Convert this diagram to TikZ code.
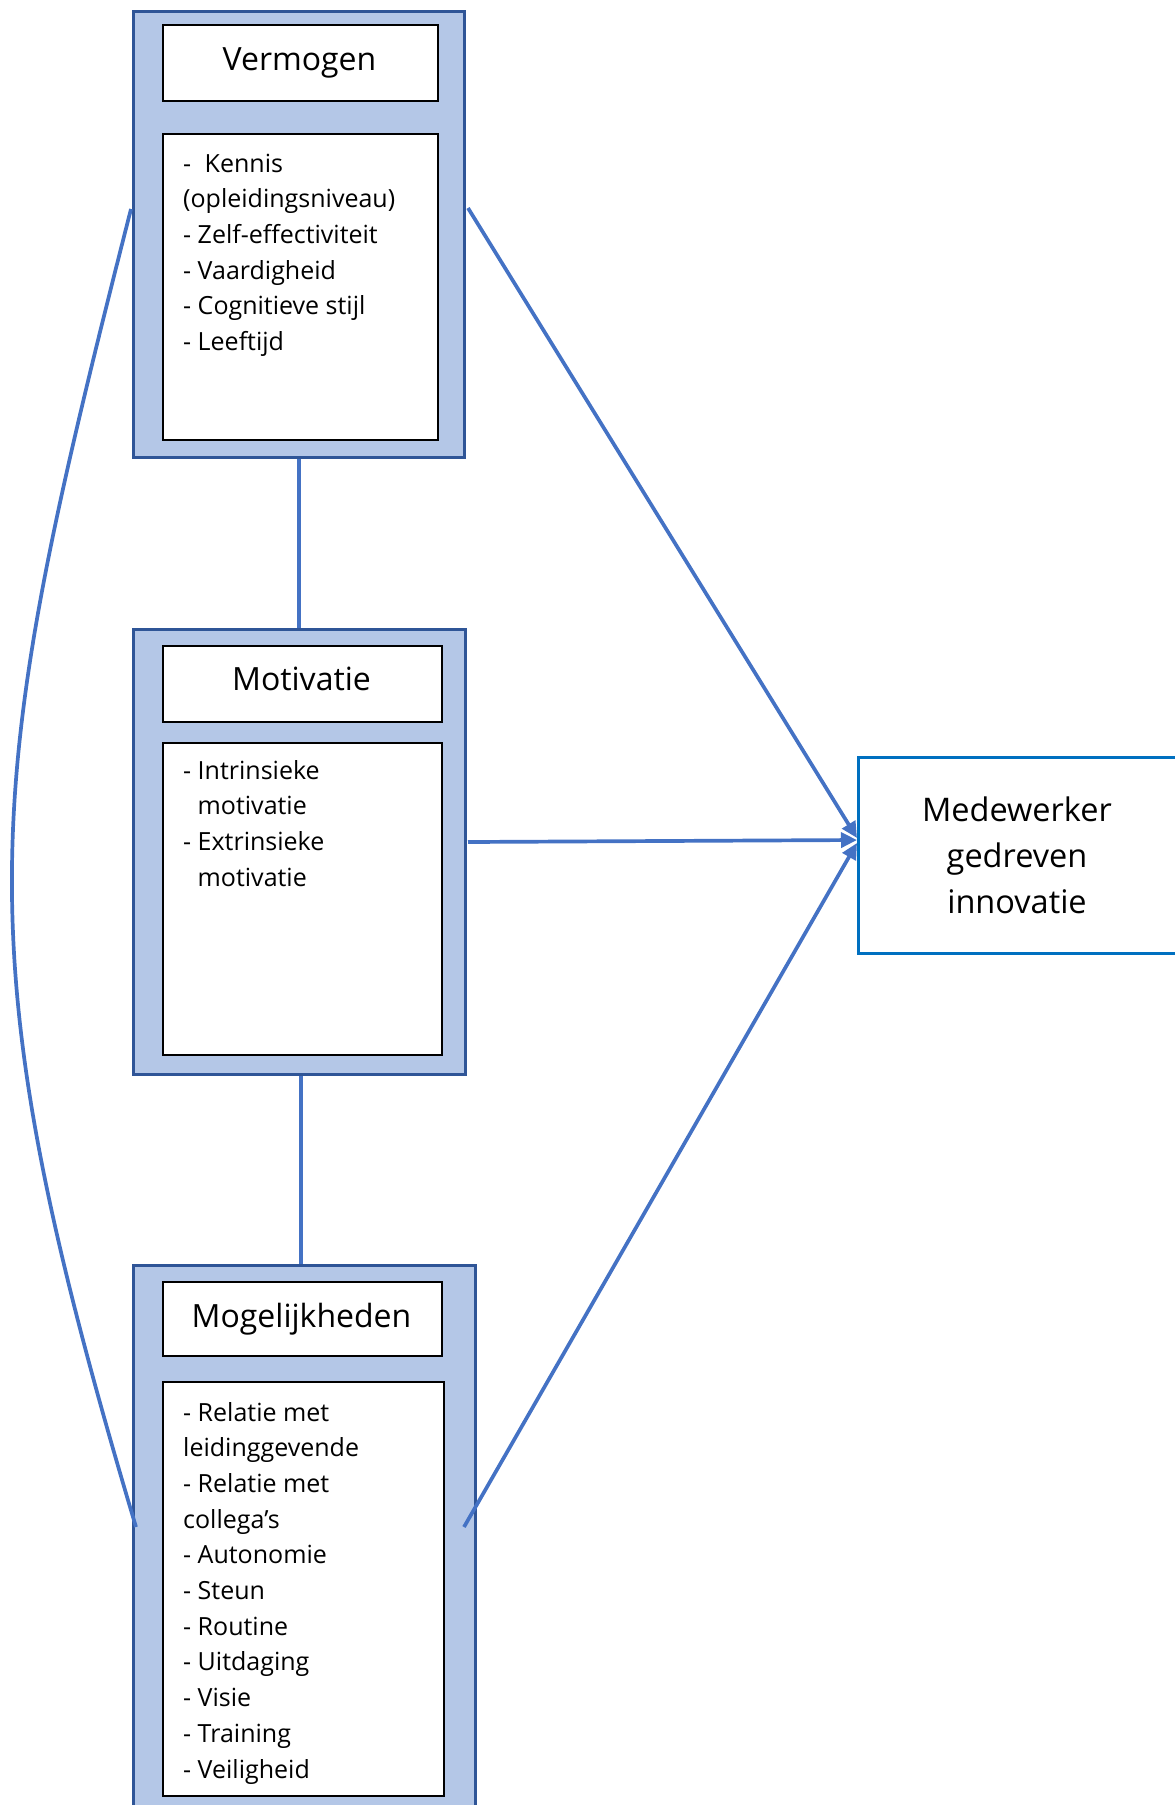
\documentclass[tikz,border=0pt]{standalone}
\usepackage{fontspec}
\setmainfont{Open Sans}
\usetikzlibrary{arrows.meta,calc}
\definecolor{outerfill}{HTML}{B4C7E7}
\definecolor{outerdraw}{HTML}{2F5597}
\definecolor{conn}{HTML}{4472C4}
\definecolor{medeblue}{HTML}{0070C0}
\tikzset{
  outerbox/.style={draw=outerdraw, fill=outerfill, line width=2.5pt, inner sep=0pt, anchor=north west},
  innerbox/.style={draw=black, fill=white, line width=1.8pt, inner sep=0pt, anchor=north west},
  titletext/.style={anchor=base, inner sep=0pt, font=\fontsize{32}{38}\selectfont},
  listtext/.style={anchor=base west, inner sep=0pt, align=left, font=\fontsize{25}{35.7}\selectfont},
  medebox/.style={draw=medeblue, fill=white, line width=2.8pt, inner sep=0pt, anchor=north west},
  medetext/.style={anchor=base, inner sep=0pt, align=center, font=\fontsize{32.5}{46}\selectfont},
  connline/.style={draw=conn, line width=3.7pt},
  connarrow/.style={draw=conn, line width=3.7pt, -{Triangle[length=16pt,width=15pt]}},
}
\begin{document}
\begin{tikzpicture}[x=1pt,y=-1pt]
\useasboundingbox (0,0) rectangle (1175,1805);
% Vermogen
\node[outerbox, minimum width=331pt, minimum height=446pt] (verm) at (132,10) {};
\node[innerbox, minimum width=275pt, minimum height=76pt] (vermT) at (162,24) {};
\node[innerbox, minimum width=275pt, minimum height=306pt] (vermC) at (162,133) {};
\node[titletext] (vermTt) at (299.5,70) {Vermogen};
% anchor base = baseline of the last line
\node[listtext] (vermCt) at (183,350.5) {- \hspace{7pt}Kennis\\(opleidingsniveau)\\- Zelf-effectiviteit\\- Vaardigheid\\- Cognitieve stijl\\- Leeftijd};
% Motivatie
\node[outerbox, minimum width=332pt, minimum height=445pt] (moti) at (132,628) {};
\node[innerbox, minimum width=279pt, minimum height=76pt] (motiT) at (162,645) {};
\node[innerbox, minimum width=279pt, minimum height=312pt] (motiC) at (162,742) {};
\node[titletext] (motiTt) at (301.5,690) {Motivatie};
\node[listtext] (motiCt) at (183,886.1) {- Intrinsieke\\\phantom{- }motivatie\\- Extrinsieke\\\phantom{- }motivatie};
% Mogelijkheden
\node[outerbox, minimum width=342pt, minimum height=560pt] (mog) at (132,1264) {};
\node[innerbox, minimum width=279pt, minimum height=74pt] (mogT) at (162,1281) {};
\node[innerbox, minimum width=281pt, minimum height=414pt] (mogC) at (162,1381) {};
\node[titletext] (mogTt) at (301.5,1327) {Mogelijkheden};
\node[listtext] (mogCt) at (183,1778) {- Relatie met\\leidinggevende\\- Relatie met\\collega’s\\- Autonomie\\- Steun\\- Routine\\- Uitdaging\\- Visie\\- Training\\- Veiligheid};
% Medewerker gedreven innovatie
\node[medebox, minimum width=340pt, minimum height=196pt] (mede) at (857,756) {};
\node[medetext] (medet) at (1017,913) {Medewerker\\gedreven\\innovatie};
% connectors
\coordinate (a1) at (468,208);
\coordinate (a2) at (468,842);
\coordinate (a3) at (464,1527);
\coordinate (t1) at (857,838);
\coordinate (t2) at (857,840);
\coordinate (t3) at (857,843);
\coordinate (c1) at (131,209);
\coordinate (c2) at (136,1527);
\draw[connline] (verm.south) -- (verm.south |- moti.north);
\draw[connline] ($(moti.south)+(2,0)$) -- ($(moti.south |- mog.north)+(2,0)$);
\draw[connarrow] (a1) -- (t1);
\draw[connarrow] (a2) -- (t2);
\draw[connarrow] (a3) -- (t3);
\draw[connline] (c1) .. controls (-18,793) and (-39,942) .. (c2);
\end{tikzpicture}
\end{document}
